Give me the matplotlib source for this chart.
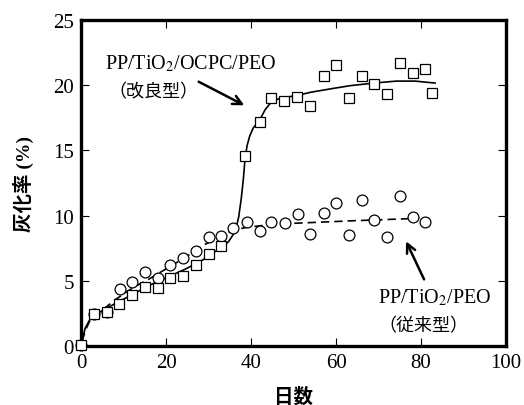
import matplotlib
matplotlib.use("Agg")
import matplotlib.pyplot as plt

plt.rcParams["mathtext.fontset"] = "stix"

# Measured points (days, ashing rate %)
sq_days = [0, 3, 6, 9, 12, 15, 18, 21, 24, 27, 30, 33, 38.6, 42.0,
           44.8, 47.8, 50.8, 53.9, 57.1, 60.0, 63.1, 66.1, 68.9, 72.1, 75.1, 78.0, 81.0, 82.5]
sq_rate = [0.1, 2.45, 2.6, 3.2, 3.9, 4.55, 4.5, 5.25, 5.4, 6.2, 7.1, 7.65, 14.6, 17.2,
           19.0, 18.8, 19.1, 18.4, 20.7, 21.5, 19.0, 20.7, 20.05, 19.3, 21.7, 20.9, 21.2, 19.4]

ci_days = [0, 3, 6, 9.2, 12, 15, 18, 21, 24, 27, 30, 33, 35.8, 39.0, 42.0,
           44.8, 48.0, 51.0, 53.9, 57.2, 60.0, 63.1, 66.1, 68.9, 72.1, 75.1, 78.0, 81.0]
ci_rate = [0.1, 2.45, 2.6, 4.35, 4.9, 5.65, 5.25, 6.2, 6.75, 7.3, 8.35, 8.45, 9.05, 9.5, 8.85,
           9.5, 9.45, 10.1, 8.6, 10.2, 10.95, 8.5, 11.2, 9.65, 8.4, 11.5, 9.9, 9.5]

# Fitted trend lines
fit_new_x = [0.3, 1, 2, 3.1, 5.1, 8.2, 12.3, 16.3, 20.4, 24.5, 28.6, 32.7, 34.7, 36.3, 37.1,
             37.7, 38.2, 38.6, 39.1, 39.7, 40.5, 42.0, 43.3, 44.9, 47.0, 50.8, 54.1, 58.6,
             63.3, 68.9, 74.2, 78.6, 83.3]
fit_new_y = [0.5, 1.4, 2.0, 2.35, 2.75, 3.3, 4.0, 4.7, 5.3, 5.9, 6.6, 7.5, 8.0, 8.8, 9.9,
             11.3, 12.8, 14.4, 15.4, 16.1, 16.7, 17.3, 18.1, 18.75, 19.0, 19.2, 19.45, 19.7,
             19.95, 20.15, 20.3, 20.3, 20.15]

fit_old_x = [0.3, 1, 2, 3.1, 5.1, 8.2, 12.3, 16.3, 20.4, 24.5, 28.6, 32.7, 35.7, 38.8, 42.9,
             49.0, 56.2, 63.3, 71.5, 79.6]
fit_old_y = [0.4, 1.2, 1.9, 2.3, 2.8, 3.6, 4.5, 5.2, 6.0, 6.8, 7.7, 8.4, 8.85, 9.1, 9.25,
             9.4, 9.5, 9.6, 9.7, 9.8]

x_ticks = [0, 20, 40, 60, 80, 100]
y_ticks = [0, 5, 10, 15, 20, 25]

serif_cjk = ["Liberation Serif", "Noto Sans CJK JP"]

fig = plt.figure(figsize=(5.24, 4.06), dpi=100)
ax = fig.add_axes([0.1546, 0.1446, 0.8111, 0.8044])

ax.plot(fit_new_x, fit_new_y, color="black", lw=1.2, zorder=2)
ax.plot(fit_old_x, fit_old_y, color="black", lw=1.2, ls=(0, (5, 3)), zorder=2)

ax.plot(ci_days, ci_rate, ls="none", marker="o", ms=7.8, mfc="white", mec="black",
        mew=0.9, clip_on=False, zorder=3)
ax.plot(sq_days, sq_rate, ls="none", marker="s", ms=7.3, mfc="white", mec="black",
        mew=0.9, clip_on=False, zorder=4)

ax.set_xlim(0, 100)
ax.set_ylim(0, 25)
ax.set_xticks(x_ticks)
ax.set_yticks(y_ticks)
ax.tick_params(direction="in", top=True, right=True, length=6, width=0.8, pad=5)
for lab in ax.get_xticklabels() + ax.get_yticklabels():
    lab.set_fontfamily("Liberation Serif")
    lab.set_fontsize(15)
for sp in ax.spines.values():
    sp.set_linewidth(2.4)

ax.set_xlabel("日数", fontfamily=serif_cjk, fontsize=14, fontweight="bold", labelpad=10)
ax.set_ylabel("灰化率 (%)", fontfamily=serif_cjk, fontsize=14, fontweight="bold", labelpad=14)

# annotations
ax.text(25.8, 21.7, "PP/TiO$_2$/OCPC/PEO", fontfamily="Liberation Serif", fontsize=14.5,
        ha="center", va="center")
ax.text(17.1, 19.5, "（改良型）", fontfamily="Noto Sans CJK JP", fontsize=13,
        ha="center", va="center")
ax.annotate("", xy=(39.0, 18.35), xytext=(27.1, 20.35),
            arrowprops=dict(arrowstyle="->", lw=1.8, color="black", mutation_scale=16))

ax.text(83.3, 3.8, "PP/TiO$_2$/PEO", fontfamily="Liberation Serif", fontsize=14.5,
        ha="center", va="center")
ax.text(80.6, 1.6, "（従来型）", fontfamily="Noto Sans CJK JP", fontsize=13,
        ha="center", va="center")
ax.annotate("", xy=(76.2, 8.23), xytext=(81.0, 4.93),
            arrowprops=dict(arrowstyle="->", lw=1.8, color="black", mutation_scale=16))

fig.savefig("out.png", dpi=100)
